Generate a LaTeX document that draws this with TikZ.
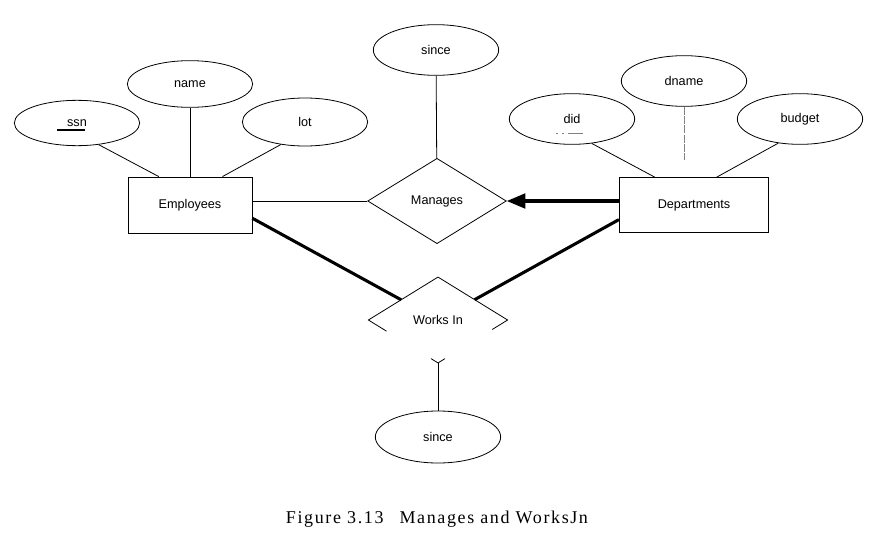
\documentclass[tikz,border=0pt]{standalone}
\usepackage{fontspec}
\setsansfont{Liberation Sans}
\newfontfamily\capfont[LetterSpace=9]{Liberation Serif}
\usetikzlibrary{shapes.geometric}
\usetikzlibrary{arrows.meta}
\usetikzlibrary{calc}

\begin{document}
\begin{tikzpicture}[x=0.75pt,y=0.75pt,yscale=-1,xscale=1,
  every node/.style={font=\sffamily\fontsize{9.5}{11}\selectfont},
  attr/.style={draw, ellipse, line width=0.6pt, inner sep=0pt, minimum width=94pt, minimum height=38pt},
  entity/.style={draw, rectangle, line width=0.6pt, inner sep=0pt},
  rel/.style={diamond, aspect=1.6, inner sep=0pt, minimum width=104pt, minimum height=64pt},
  link/.style={line width=0.6pt},
  bold/.style={line width=2.3pt}]
\useasboundingbox (0,0) rectangle (875,539);

%Shape: Rectangle [Employees]
\node (emp) at (190,205) [entity, minimum width=93pt, minimum height=42pt] {Employees};
%Shape: Rectangle [Departments]
\node (dep) at (694,205) [entity, minimum width=112pt, minimum height=41pt] {Departments};

%Shape: Diamond [Manages]
\node (man) at (437,201) [rel, draw, line width=0.6pt] {Manages};
%Shape: Diamond [Works In], lower half partly missing
\node (wi) at (438,320) [rel] {Works In};
\draw [link] ($(wi.west)!0.26!(wi.south)$) -- (wi.west) -- (wi.north) -- (wi.east) -- ($(wi.east)!0.22!(wi.south)$) ;
\draw [link] ($(wi.west)!0.9!(wi.south)$) -- (wi.south) -- ($(wi.east)!0.9!(wi.south)$) ;

%Shape: Ellipse [attributes of Employees]
\node (ssn) at (77,123) [attr, minimum height=34pt] {ssn};
\node (name) at (190,84) [attr, minimum height=35pt] {name};
\node (lot) at (305,122) [attr, minimum height=36pt] {lot};
%Shape: Ellipse [attributes of Departments]
\node (did) at (572,119) [attr] {did};
\node (dname) at (684,81) [attr] {dname};
\node (budget) at (800,119) [attr] {budget};
%Shape: Ellipse [since]
\node (sinceM) at (436,50) [attr] {since};
\node (sinceW) at (438,437) [attr, minimum height=39pt] {since};

%Straight Lines [keys]
\draw [line width=1.4pt] ($(ssn.center)+(-20,7)$) -- ++(28,0) ;
\draw [gray, line width=0.6pt, dash pattern=on 1.5pt off 3pt on 1.5pt off 3pt on 12pt off 20pt] ($(did.center)+(-16,14)$) -- ++(27,0) ;

%Straight Lines [attributes to entities]
\draw [link] (ssn.-45) -- ($(emp.north west)!0.25!(emp.north east)$) ;
\draw [link] (name) -- (emp) ;
\draw [link] (lot.-137) -- ($(emp.north west)!0.76!(emp.north east)$) ;
\draw [link] (did.-51) -- ($(dep.north west)!0.24!(dep.north east)$) ;
\draw [link, gray, dash pattern=on 6pt off 1pt, shorten >=13pt] (dname.south) -- (dname.south |- dep.north) ;
\draw [link] (budget.-132) -- ($(dep.north west)!0.65!(dep.north east)$) ;
\draw [link] (sinceM) -- (man) ;
\draw [link] (sinceW) -- (wi.south) ;

%Straight Lines [relationships]
\draw [link] (man.west -| emp.east) -- (man.west) ;
\draw [bold, -{Triangle[length=14pt,width=11pt]}] (man.east -| dep.west) -- (man.east) ;
\draw [bold] (emp.-12) -- (wi) ;
\draw [bold] (dep.191) -- (wi) ;

% Text Node
\node (cap) at (437,523) [anchor=base, font=\capfont\fontsize{13.5}{15}\selectfont] {Figure 3.13\hspace{12pt}Manages and WorksJn};

\end{tikzpicture}
\end{document}
